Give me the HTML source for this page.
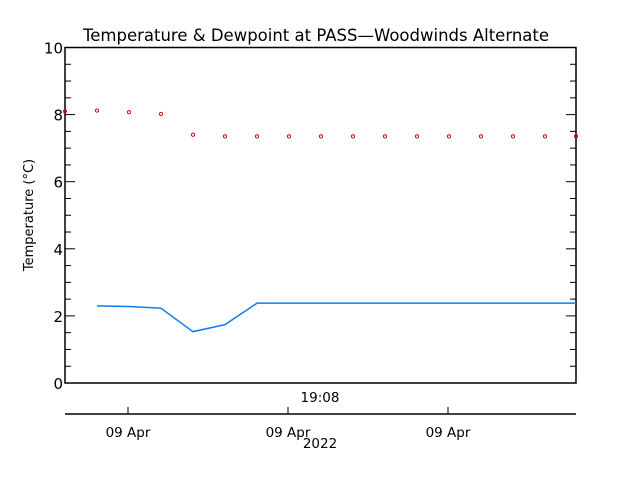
<!DOCTYPE html>
<html><head><meta charset="utf-8"><style>
html,body{margin:0;padding:0;background:#fff;}
svg{display:block;font-family:"DejaVu Sans","Liberation Sans",sans-serif;}
</style></head><body>
<svg id="chart" width="640" height="480" viewBox="0 0 640 480" xmlns="http://www.w3.org/2000/svg">
<rect width="640" height="480" fill="#fff"/>
<text x="316" y="41" font-size="16.5" text-anchor="middle" fill="#000">Temperature &amp; Dewpoint at PASS—Woodwinds Alternate</text>
<text transform="translate(33,215) rotate(-90)" font-size="13" text-anchor="middle" fill="#000">Temperature (°C)</text>
<rect x="65" y="47.5" width="511" height="335.5" fill="none" stroke="#000" stroke-width="1.5"/>
<g id="yticks"></g>
<g id="xaxis"></g>
<g id="series"></g>
</svg>
<script>
const tempX = [0,1,2,3,4,5,6,7,8,9,10,11,12,13,14,15,16];
const tempValues = [8.1,8.12,8.07,8.02,7.4,7.35,7.35,7.35,7.35,7.35,7.35,7.35,7.35,7.35,7.35,7.35,7.35];
const dewX = [1,2,3,4,5,6,15.97];
const dewValues = [2.3,2.28,2.23,1.53,1.74,2.38,2.38];
const yTickLabels = [0,2,4,6,8,10];
const xTickSlots = [2,7,12];
const xTickLabels = ["09 Apr","09 Apr","09 Apr"];

const NS="http://www.w3.org/2000/svg";
const x0=65,x1=576,y0=383,y1=47.5;
const xs=i=>x0+i*32;
const ys=v=>y0-(v/10)*(y0-y1);
function mk(t,a){const e=document.createElementNS(NS,t);for(const k in a)e.setAttribute(k,a[k]);return e;}

const yt=document.getElementById('yticks');
for(let k=0;k<=20;k++){
  const v=k*0.5, y=ys(v), len=(k%4===0)?10:6;
  const l1=mk('line',{x1:x0,x2:x0+len,y1:y,y2:y,stroke:'#000','stroke-width':1});
  
  
  yt.appendChild(l1);
  const l2=mk('line',{x1:x1,x2:x1-len,y1:y,y2:y,stroke:'#000','stroke-width':1});
  
  
  yt.appendChild(l2);
}
yTickLabels.forEach(v=>{
  const t=mk('text',{x:x0-2,y:ys(v)+6,'font-size':15,'text-anchor':'end',fill:'#000'});
  
  
  t.textContent=v; yt.appendChild(t);
});

const xa=document.getElementById('xaxis');
const ax=mk('line',{x1:x0,x2:x1,y1:414,y2:414,stroke:'#000','stroke-width':1.5});


xa.appendChild(ax);
xTickSlots.forEach((s,i)=>{
  const x=xs(s)-1;
  const l=mk('line',{x1:x,x2:x,y1:414,y2:407,stroke:'#000','stroke-width':1});
  
  
  xa.appendChild(l);
  const t=mk('text',{x:x,y:437,'font-size':13.5,'text-anchor':'middle',fill:'#000'});
  
  
  t.textContent=xTickLabels[i]; xa.appendChild(t);
});
const tm=mk('text',{x:320,y:402,'font-size':13.5,'text-anchor':'middle',fill:'#000'});


tm.textContent='19:08'; xa.appendChild(tm);
const yr=mk('text',{x:320,y:448,'font-size':13.5,'text-anchor':'middle',fill:'#000'});


yr.textContent='2022'; xa.appendChild(yr);

const sg=document.getElementById('series');
const pts=dewX.map((s,i)=>Math.min(xs(s),x1)+','+ys(dewValues[i])).join(' ');
const pl=mk('polyline',{points:pts,fill:'none',stroke:'#0a7cf0','stroke-width':1.5});


sg.appendChild(pl);
tempX.forEach((s,i)=>{
  const c=mk('circle',{cx:Math.min(xs(s),x1),cy:ys(tempValues[i]),r:1.6,fill:'none',stroke:'#e00000','stroke-width':1});
  
  
  sg.appendChild(c);
});
</script>
</body></html>
